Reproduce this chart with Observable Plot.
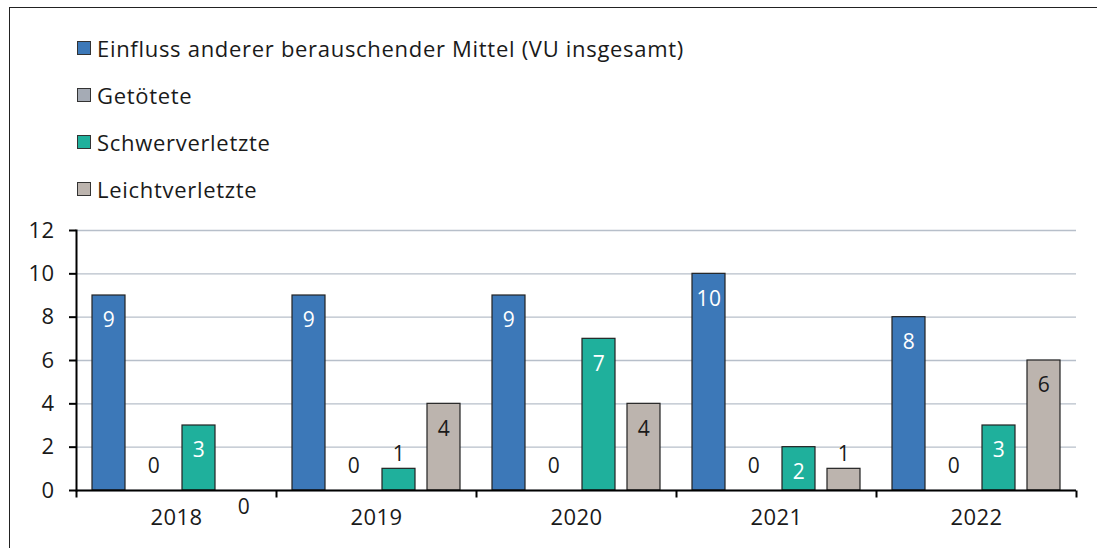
<!DOCTYPE html>
<html>
<head>
<meta charset="utf-8">
<script src="https://cdn.jsdelivr.net/npm/d3@7"></script>
<script src="https://cdn.jsdelivr.net/npm/@observablehq/plot@0.6"></script>
<style>
  html, body { margin: 0; padding: 0; background: #fff; }
  #wrap { position: relative; width: 1097px; height: 548px; overflow: hidden; font-family: "Open Sans", Lato, sans-serif; color: #1a1a1a; }
  #border { position: absolute; left: 9px; top: 7px; width: 3000px; height: 3000px; border-left: 1.5px solid #222; border-top: 1.5px solid #222; }
  #chart { position: absolute; left: 0; top: 0; }
  #legend { position: absolute; left: 77px; top: 24px; font-size: 22px; letter-spacing: 0.7px; }
  .row { display: flex; align-items: center; height: 47px; }
  .sw { width: 14px; height: 14px; box-sizing: border-box; border: 1px solid #333; margin-right: 6px; }
</style>
</head>
<body>
<div id="wrap">
  <div id="border"></div>
  <div id="chart"></div>
  <div id="legend"></div>
</div>
<script>
const years = ["2018", "2019", "2020", "2021", "2022"];
const series = ["Einfluss anderer berauschender Mittel (VU insgesamt)", "Getötete", "Schwerverletzte", "Leichtverletzte"];
const einfluss = [9, 9, 9, 10, 8];
const getoetete = [0, 0, 0, 0, 0];
const schwerverletzte = [3, 1, 7, 2, 3];
const leichtverletzte = [0, 4, 4, 1, 6];
const colors = ["#3c78b8", "#a5abb5", "#1fb09c", "#bcb4ae"];
const yTicks = [0, 2, 4, 6, 8, 10, 12];

const valueLists = [einfluss, getoetete, schwerverletzte, leichtverletzte];
const data = [];
years.forEach((year, i) => {
  series.forEach((s, j) => data.push({year, series: s, value: valueLists[j][i]}));
});

// legend
const legend = document.getElementById("legend");
series.forEach((s, j) => {
  const row = document.createElement("div");
  row.className = "row";
  const sw = document.createElement("div");
  sw.className = "sw";
  sw.style.background = colors[j];
  const t = document.createElement("span");
  t.textContent = s;
  row.appendChild(sw);
  row.appendChild(t);
  legend.appendChild(row);
});

const tickSymbol = {draw(ctx) { ctx.moveTo(0, 0); ctx.lineTo(0, 7); }};
const dark = "#1a1a1a";
const whiteLabel = d => d.value >= 2 && d.series !== series[3];
const darkInside = d => d.value >= 2 && d.series === series[3];

const chart = Plot.plot({
  width: 1097,
  height: 548,
  marginLeft: 75,
  marginRight: 20,
  marginTop: 230,
  marginBottom: 58,
  style: {fontFamily: "'Open Sans', Lato, sans-serif", fontSize: "22px", letterSpacing: "0.4px", color: dark, background: "transparent", overflow: "visible"},
  fx: {domain: years, paddingInner: 0, paddingOuter: 0, label: null},
  x: {domain: series, paddingInner: 0.26, paddingOuter: 0.35, axis: null},
  y: {domain: [0, 12], axis: null},
  color: {domain: series, range: colors},
  marks: [
    Plot.gridY(yTicks, {stroke: "#b7bfca", strokeOpacity: 1, strokeWidth: 1.3}),
    Plot.barY(data.filter(d => d.value > 0), {fx: "year", x: "series", y: "value", fill: "series", stroke: "#222", strokeWidth: 1.2}),
    Plot.ruleY([0], {stroke: "#000", strokeWidth: 2}),
    Plot.frame({anchor: "left", facetAnchor: "left", stroke: "#000", strokeWidth: 2}),
    Plot.axisY(yTicks, {tickSize: 7, tickPadding: 15, fontSize: 22, stroke: "#000", strokeWidth: 2, label: null, fill: dark}),
    Plot.dot(years, {fx: d => d, frameAnchor: "bottom-left", symbol: tickSymbol, stroke: "#000", strokeWidth: 2, fill: "none"}),
    Plot.dot(years.slice(-1), {fx: d => d, frameAnchor: "bottom-right", symbol: tickSymbol, stroke: "#000", strokeWidth: 2, fill: "none"}),
    Plot.axisFx({anchor: "bottom", tickSize: 0, tickPadding: 19, fontSize: 22, label: null, fill: dark}),
    Plot.text(data.filter(whiteLabel), {fx: "year", x: "series", y: "value", text: d => String(d.value), dy: 25, fill: "#fff", fontSize: 21}),
    Plot.text(data.filter(darkInside), {fx: "year", x: "series", y: "value", text: d => String(d.value), dy: 25, fill: dark, fontSize: 21}),
    Plot.text(data.filter(d => d.value === 1), {fx: "year", x: "series", y: "value", text: d => String(d.value), dy: -15, fill: dark, fontSize: 21}),
    Plot.text(data.filter(d => d.value === 0 && d.series === series[1]), {fx: "year", x: "series", y: "value", text: d => String(d.value), dy: -24, fill: dark, fontSize: 21}),
    Plot.text(data.filter(d => d.value === 0 && d.series === series[3]), {fx: "year", x: "series", y: "value", text: d => String(d.value), dy: 17, fill: dark, fontSize: 21})
  ]
});
document.getElementById("chart").appendChild(chart);
</script>
</body>
</html>
